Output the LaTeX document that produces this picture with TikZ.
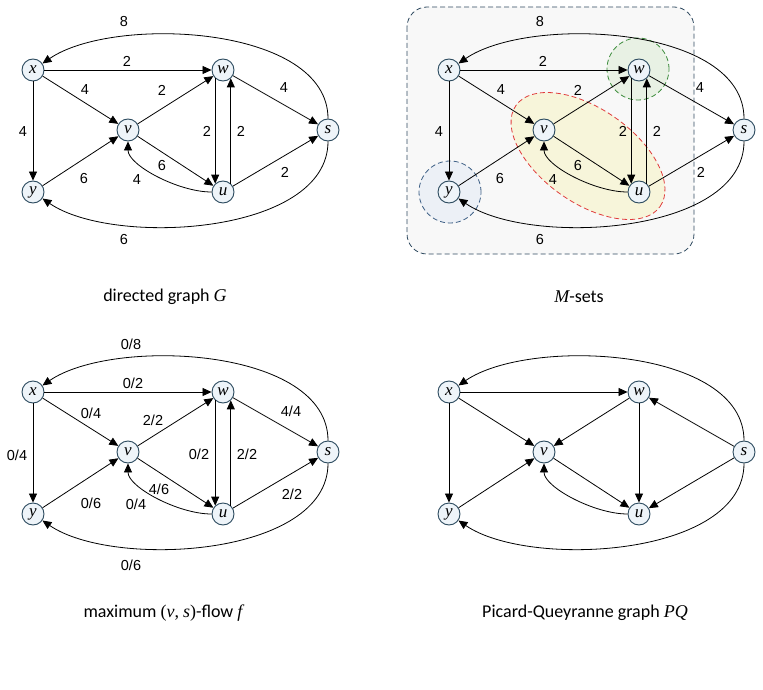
\documentclass[tikz,border=0pt]{standalone}
\usepackage{fontspec}
\setmainfont{Liberation Sans}
\newfontfamily\capfont{Carlito}
\newfontfamily\letterfont{Liberation Serif}
\newcommand\mv[1]{{\letterfont\itshape #1}}
\usetikzlibrary{arrows.meta}
\definecolor{nodefill}{HTML}{EEF4F9}
\definecolor{nodedraw}{HTML}{2B4A5E}
\definecolor{setrect}{HTML}{F8F8F8}
\definecolor{setrectdraw}{HTML}{2F4A60}
\definecolor{greenfill}{HTML}{E8F1E4}
\definecolor{greendraw}{HTML}{3C8C3C}
\definecolor{bluefill}{HTML}{ECF0F6}
\definecolor{bluedraw}{HTML}{3D5F85}
\definecolor{yellowfill}{HTML}{F7F5DA}
\definecolor{reddraw}{HTML}{E03C3C}
\tikzset{
  vtx/.style={circle, draw=nodedraw, fill=nodefill, line width=0.9pt, minimum size=22pt, inner sep=0pt, font=\letterfont\itshape\fontsize{17}{17}\selectfont},
  edge/.style={draw=black, line width=0.8pt, -{Triangle[length=9pt,width=8pt]}},
  lbl/.style={font=\fontsize{14.5}{15}\selectfont, inner sep=0pt},
  captext/.style={font=\capfont\fontsize{18}{19}\selectfont, inner sep=0pt},
  setdash/.style={dash pattern=on 5pt off 3pt, line width=0.8pt},
  setcircle/.style={circle, minimum size=62pt, inner sep=0pt, setdash},
}
\newcommand\placenodes[1]{%
  \node[vtx] (#1x) at (33,70) {x};
  \node[vtx] (#1w) at (223,70) {w};
  \node[vtx] (#1v) at (128,130) {v};
  \node[vtx] (#1s) at (328,130) {s};
  \node[vtx] (#1y) at (33,192) {y};
  \node[vtx] (#1u) at (223,192) {u};
}
\newcommand\gedges[1]{%
  \draw[edge] (#1s) .. controls +(0,-105) and +(80,-55) .. (#1x);
  \draw[edge] (#1s) .. controls +(0,105) and +(80,55) .. (#1y);
  \draw[edge] (#1x) -- (#1w);
  \draw[edge] (#1x) -- (#1v);
  \draw[edge] (#1x) -- (#1y);
  \draw[edge] (#1y) -- (#1v);
  \draw[edge] (#1v) -- (#1w);
  \draw[edge] (#1v) -- (#1u);
  \draw[edge] (#1w.-133) -- (#1u.133);
  \draw[edge] (#1u.47) -- (#1w.-47);
  \draw[edge] (#1w) -- (#1s);
  \draw[edge] (#1u) -- (#1s);
  \draw[edge] (#1u) .. controls +(-45,0) and +(0,35) .. (#1v);
}
\newcommand\glabels[1]{%
  \node[lbl] (#1l1) at (124,22) {8};
  \node[lbl] (#1l2) at (127,61) {2};
  \node[lbl] (#1l3) at (85,90) {4};
  \node[lbl] (#1l4) at (162,90) {2};
  \node[lbl] (#1l5) at (284,88) {4};
  \node[lbl] (#1l6) at (23,132) {4};
  \node[lbl] (#1l7) at (207,131) {2};
  \node[lbl] (#1l8) at (241,131) {2};
  \node[lbl] (#1l9) at (84,179) {6};
  \node[lbl] (#1l10) at (162,166) {6};
  \node[lbl] (#1l11) at (137,180) {4};
  \node[lbl] (#1l12) at (285,172) {2};
  \node[lbl] (#1l13) at (124,240) {6};
}
\begin{document}
\begin{tikzpicture}[x=1pt,y=-1pt]
\useasboundingbox (0,0) rectangle (763,690);
% ---------- panel 1: directed graph G
\begin{scope}
  \placenodes{a}
  \gedges{a}
  \glabels{a}
\end{scope}
\node[captext] (capa) at (165,297) {directed graph \mv{G}};
% ---------- panel 2: M-sets
\begin{scope}[shift={(416,0)}]
  \draw[setdash, draw=setrectdraw, fill=setrect, rounded corners=20pt] (-9,7) rectangle (278,254);
  \node[setcircle, draw=greendraw, fill=greenfill] (mw) at (222,69) {};
  \node[setcircle, draw=bluedraw, fill=bluefill] (my) at (34,192) {};
  \draw[setdash, draw=reddraw, fill=yellowfill, rotate around={-35:(172,156)}] (172,156) ellipse [x radius=88pt, y radius=47pt];
  \placenodes{b}
  \gedges{b}
  \glabels{b}
\end{scope}
\node[captext] (capb) at (579,297) {\mv{M}-sets};
% ---------- panel 3: maximum flow
\begin{scope}[shift={(0,322)}]
  \placenodes{c}
  \gedges{c}
  \node[lbl] (cl1) at (131,22) {0/8};
  \node[lbl] (cl2) at (133,61) {0/2};
  \node[lbl] (cl3) at (91,91) {0/4};
  \node[lbl] (cl4) at (153,98) {2/2};
  \node[lbl] (cl5) at (291,89) {4/4};
  \node[lbl] (cl6) at (17,133) {0/4};
  \node[lbl] (cl7) at (199,132) {0/2};
  \node[lbl] (cl8) at (247,132) {2/2};
  \node[lbl] (cl9) at (91,181) {0/6};
  \node[lbl] (cl10) at (159,167) {4/6};
  \node[lbl] (cl11) at (136,182) {0/4};
  \node[lbl] (cl12) at (292,172) {2/2};
  \node[lbl] (cl13) at (131,243) {0/6};
\end{scope}
\node[captext] (capc) at (163,613) {maximum {\letterfont(}\mv{v}{\letterfont,} \mv{s}{\letterfont)}-flow \mv{f}};
% ---------- panel 4: Picard-Queyranne graph
\begin{scope}[shift={(416,322)}]
  \placenodes{d}
  \draw[edge] (ds) .. controls +(0,-105) and +(80,-55) .. (dx);
  \draw[edge] (ds) .. controls +(0,105) and +(80,55) .. (dy);
  \draw[edge] (dx) -- (dw);
  \draw[edge] (dx) -- (dv);
  \draw[edge] (dx) -- (dy);
  \draw[edge] (dy) -- (dv);
  \draw[edge] (dw) -- (dv);
  \draw[edge] (dv) -- (du);
  \draw[edge] (dw) -- (du);
  \draw[edge] (ds) -- (dw);
  \draw[edge] (ds) -- (du);
  \draw[edge] (du) .. controls +(-45,0) and +(0,35) .. (dv);
\end{scope}
\node[captext] (capd) at (585,613) {Picard-Queyranne graph \mv{PQ}};
\end{tikzpicture}
\end{document}
